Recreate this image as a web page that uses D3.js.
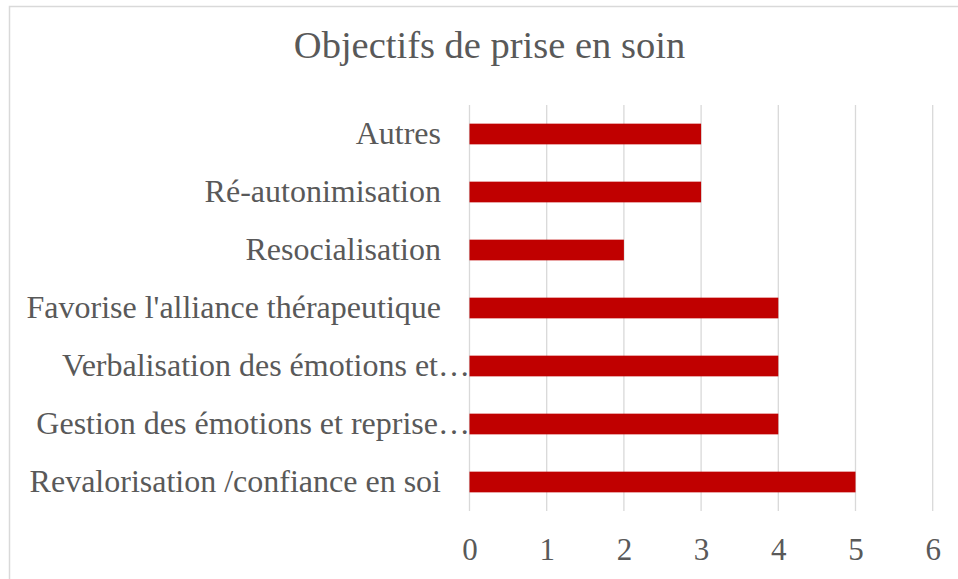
<!DOCTYPE html>
<html>
<head>
<meta charset="utf-8">
<script src="https://cdn.jsdelivr.net/npm/d3@7"></script>
<style>
  html, body { margin: 0; padding: 0; background: #fff; overflow: hidden; }
  svg { display: block; }
  text { font-family: "Liberation Serif", "Times New Roman", serif; fill: #595959; }
</style>
</head>
<body>
<svg id="chart" width="958" height="579"></svg>
<script>
const title = "Objectifs de prise en soin";
const categories = [
  "Autres",
  "Ré-autonimisation",
  "Resocialisation",
  "Favorise l'alliance thérapeutique",
  "Verbalisation des émotions et…",
  "Gestion des émotions et reprise…",
  "Revalorisation /confiance en soi"
];
const values = [3, 3, 2, 4, 4, 4, 5];
const xTicks = [0, 1, 2, 3, 4, 5, 6];

const svg = d3.select("#chart");
const W = 958, H = 579;

// chart border
svg.append("rect")
  .attr("x", 9.5).attr("y", 6.5)
  .attr("width", W + 20).attr("height", H + 20)
  .attr("fill", "#fff")
  .attr("stroke", "#D9D9D9")
  .attr("stroke-width", 1.5);

const x = d3.scaleLinear().domain([0, 6]).range([469.5, 932.7]);
const y = d3.scaleBand().domain(categories).range([105, 511])
  .paddingInner(0.643).paddingOuter(0.3215);

// gridlines
svg.append("g")
  .selectAll("line")
  .data(xTicks)
  .join("line")
  .attr("x1", d => x(d)).attr("x2", d => x(d))
  .attr("y1", 105).attr("y2", 511)
  .attr("stroke", "#D9D9D9")
  .attr("stroke-width", 1.3);

// bars
svg.append("g")
  .selectAll("rect")
  .data(categories)
  .join("rect")
  .attr("x", x(0))
  .attr("y", d => y(d))
  .attr("width", (d, i) => x(values[i]) - x(0))
  .attr("height", y.bandwidth())
  .attr("fill", "#C00000");

// category labels
svg.append("g")
  .selectAll("text")
  .data(categories)
  .join("text")
  .attr("x", d => d.endsWith("…") ? 470 : 441)
  .attr("y", d => y(d) + y.bandwidth() / 2 + 9.5)
  .attr("text-anchor", "end")
  .attr("font-size", "32px")
  .text(d => d);

// x axis tick labels
const xAxis = d3.axisBottom(x).tickValues(xTicks).tickSize(0).tickPadding(0)
  .tickFormat(d3.format("d"));
const gx = svg.append("g").attr("transform", "translate(0,0)").call(xAxis);
gx.select(".domain").remove();
gx.selectAll("text")
  .attr("y", 560)
  .attr("dy", null)
  .attr("font-size", "31px")
  .attr("font-family", "Liberation Serif, Times New Roman, serif")
  .attr("fill", "#595959");

// title
svg.append("text")
  .attr("x", 489.5).attr("y", 58)
  .attr("text-anchor", "middle")
  .attr("font-size", "38.5px")
  .text(title);
</script>
</body>
</html>
